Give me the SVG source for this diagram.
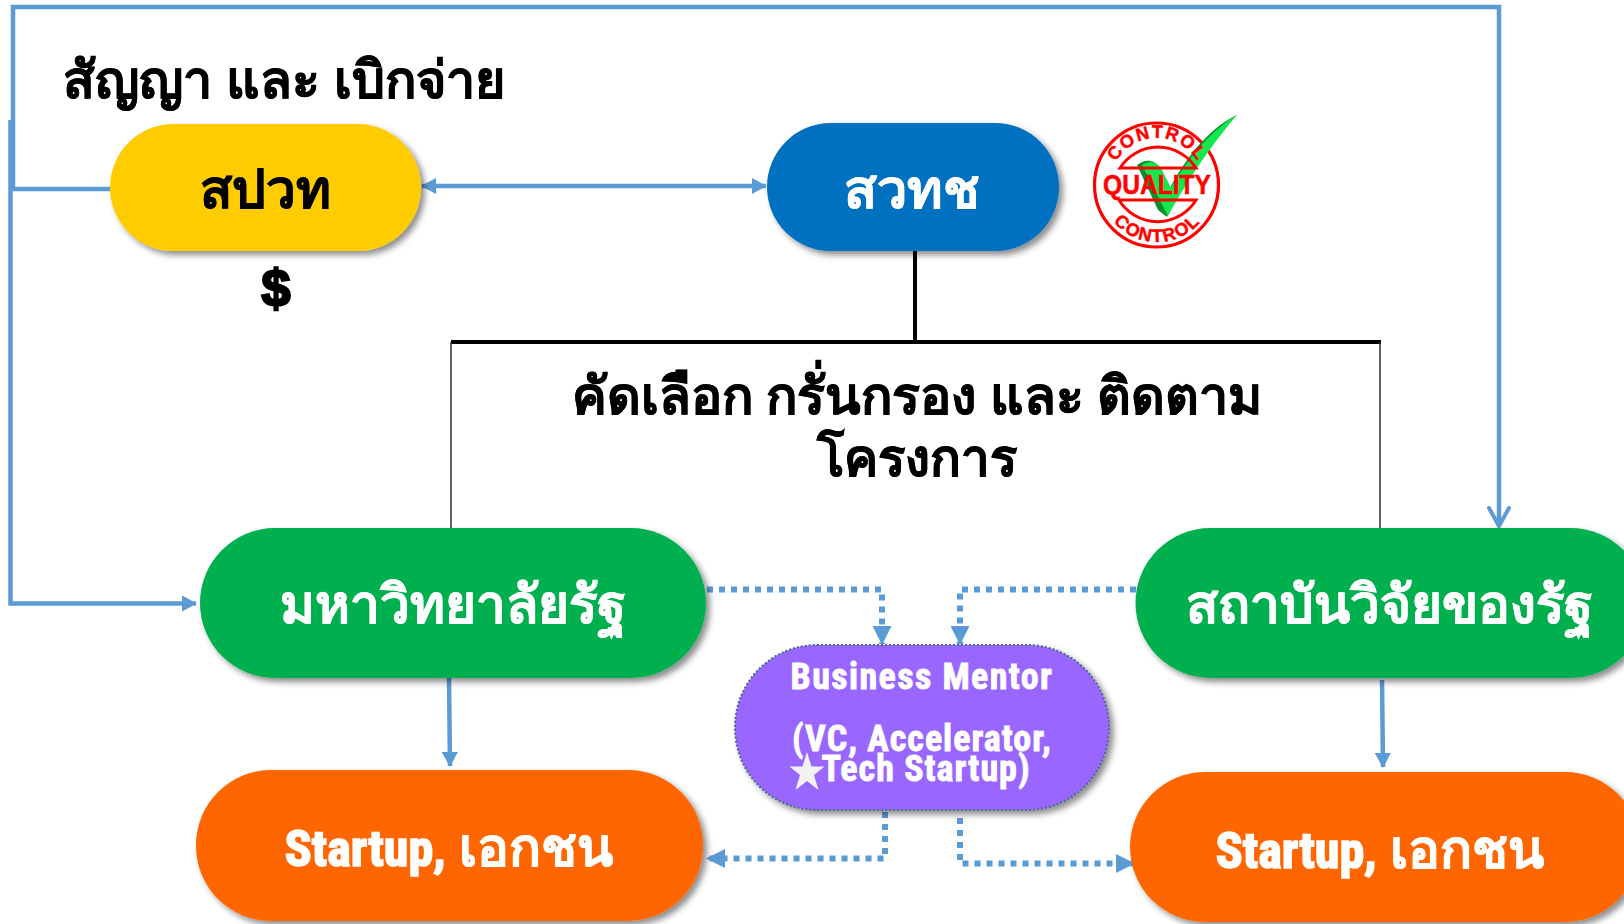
<svg xmlns="http://www.w3.org/2000/svg" width="1624" height="924" viewBox="0 0 1624 924">
<style>
text{font-family:"Noto Sans","Liberation Sans",sans-serif;font-weight:700;text-anchor:middle}
.blue{fill:none;stroke:#5b9bd5;stroke-width:4.500}
.dot{fill:none;stroke:#5b9bd5;stroke-width:6;stroke-dasharray:6 6}
.k{fill:#000;stroke:#000;stroke-width:.5}
.ws{fill:#fff;stroke:#fff;stroke-width:.5}
.lat{font-family:"Liberation Sans Narrow","Roboto Condensed","Liberation Sans",sans-serif;fill:#fff;stroke:#fff;stroke-width:.8}
.big{stroke-width:1.6}
.qt{font-family:"Liberation Sans",sans-serif;fill:#f00;stroke:#f00;stroke-width:.5}
</style>
<defs>
<filter id="sh" x="-10%" y="-15%" width="125%" height="135%"><feDropShadow dx="4" dy="4" stdDeviation="3" flood-color="#000" flood-opacity=".45"/></filter>
<marker id="tri" markerWidth="15" markerHeight="16" refX="14" refY="8" orient="auto-start-reverse" markerUnits="userSpaceOnUse"><path d="M0 0L15 8L0 16Z" fill="#5b9bd5"/></marker>
<marker id="tri2" markerWidth="19" markerHeight="19" refX="18" refY="9.5" orient="auto-start-reverse" markerUnits="userSpaceOnUse"><path d="M0 0L19 9.5L0 19Z" fill="#5b9bd5"/></marker>
<marker id="open" markerWidth="24" markerHeight="24" refX="21" refY="12" orient="auto" markerUnits="userSpaceOnUse"><path d="M3 2L21 12L3 22" fill="none" stroke="#5b9bd5" stroke-width="4" stroke-linecap="round"/></marker>
</defs>
<g id="connectors">
<path class="blue" d="M110 189H13V7H1499V526" marker-end="url(#open)"/>
<path class="blue" d="M10.500 120V603.500H196" marker-end="url(#tri)"/>
<path class="blue" d="M422 186H766" marker-start="url(#tri)" marker-end="url(#tri)"/>
<path d="M915 250V342" fill="none" stroke="#000" stroke-width="4"/>
<path d="M451 342H1381" fill="none" stroke="#000" stroke-width="4"/>
<path d="M451 342V528M1380 342V528" fill="none" stroke="#333" stroke-width="1.500"/>
<path class="blue" d="M449 678L450 766" marker-end="url(#tri)"/>
<path class="blue" d="M1382 680L1383 767" marker-end="url(#tri)"/>
<path class="dot" d="M707 589.500H882V644" marker-end="url(#tri2)"/>
<path class="dot" d="M1136 589.500H960V644" marker-end="url(#tri2)"/>
<path class="dot" d="M885 812V858.500H707" marker-end="url(#tri2)"/>
<path class="dot" d="M960 818V863.500H1134" marker-end="url(#tri2)"/>
</g>
<g id="n-spwt"><rect x="110" y="124" width="311" height="127" rx="63.500" fill="#ffcc00" filter="url(#sh)"/><text class="k" x="265" y="208" font-size="53">สปวท</text></g>
<g id="n-swtch"><rect x="767" y="123" width="292" height="128" rx="64" fill="#0070c0" filter="url(#sh)"/><text class="ws" x="912" y="208" font-size="54">สวทช</text></g>
<g id="n-uni"><rect x="200" y="528" width="506" height="150" rx="75" fill="#00b050" filter="url(#sh)"/><text class="ws" x="453" y="623" font-size="53">มหาวิทยาลัยรัฐ</text></g>
<g id="n-inst"><rect x="1135.500" y="528" width="510" height="150" rx="75" fill="#00b050" filter="url(#sh)"/><text class="ws" x="1389" y="623" font-size="53">สถาบันวิจัยของรัฐ</text></g>
<g id="n-mentor"><rect x="735" y="645" width="374" height="165" rx="82" fill="#9966ff" stroke="#44698f" stroke-width="2" stroke-dasharray="2 2" filter="url(#sh)"/>
<text class="lat" x="922" y="689" font-size="36" letter-spacing="1.400">Business Mentor</text><text class="lat" x="922" y="751" font-size="36" letter-spacing="1">(VC, Accelerator,</text><text class="lat" x="926" y="781" font-size="36" letter-spacing="1">Tech Startup)</text></g>
<path id="star" d="M807 752l4.500 14.500h13l-10.500 8.500 4.500 15-11.500-9-11.500 9 4.500-15-10.500-8.500h13z" fill="#f2f2f2"/>
<g id="n-st1"><rect x="196" y="770" width="507" height="151" rx="75" fill="#ff6600" filter="url(#sh)"/><text class="ws" x="449" y="866" font-size="53"><tspan class="lat big" font-size="50">Startup,</tspan> เอกชน</text></g>
<g id="n-st2"><rect x="1130" y="772" width="510" height="150" rx="75" fill="#ff6600" filter="url(#sh)"/><text class="ws" x="1380" y="868" font-size="53"><tspan class="lat big" font-size="50">Startup,</tspan> เอกชน</text></g>
<text class="k" x="284" y="98" font-size="52">สัญญา และ เบิกจ่าย</text>
<text x="276" y="306" font-size="52" style="font-family:'Liberation Sans',sans-serif;font-weight:700;stroke:#000;stroke-width:2.500">$</text>
<text class="k" x="917" y="414" font-size="52">คัดเลือก กรั่นกรอง และ ติดตาม</text>
<text class="k" x="917" y="476" font-size="51">โครงการ</text>
<g id="qc">
<circle cx="1156.500" cy="185" r="62" fill="none" stroke="#f00" stroke-width="3.200"/>
<path d="M1137 165C1146 158 1155 160 1160 168L1170 188C1182 165 1205 130 1237 115C1215 135 1190 170 1167 217L1158 210Z" fill="#0a8f2e"/>
<path d="M1142 165C1150 160 1156 161 1161 168L1171 188C1185 163 1208 132 1237 115C1218 137 1192 172 1168 216Z" fill="#12e84c"/>
<path d="M1120 168A45 45 0 0 1 1196 168ZM1119 200A45 45 0 0 0 1196 200Z" fill="none" stroke="#f00" stroke-width="3"/>
<text class="qt" x="1157" y="194" font-size="27" textLength="108" lengthAdjust="spacingAndGlyphs">QUALITY</text>
<path id="qa1" d="M1110 185A47 47 0 0 1 1204 185" fill="none"/>
<path id="qa2" d="M1100 185A57 57 0 0 0 1214 185" fill="none"/>
<text class="qt" font-size="18" letter-spacing="1.500"><textPath href="#qa1" startOffset="50%">CONTROL</textPath></text>
<text class="qt" font-size="18" letter-spacing="1.500"><textPath href="#qa2" startOffset="50%">CONTROL</textPath></text>
</g>
</svg>
